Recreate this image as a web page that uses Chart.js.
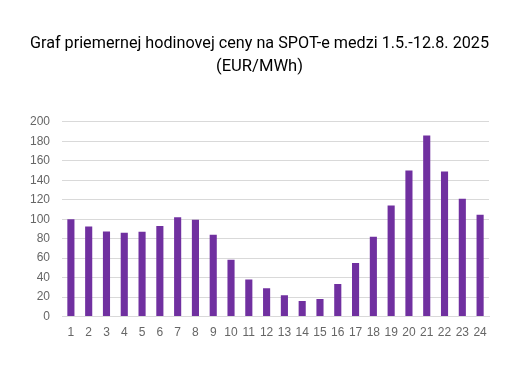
<!DOCTYPE html>
<html>
<head>
<meta charset="utf-8">
<script src="https://cdn.jsdelivr.net/npm/chart.js@4"></script>
<style>
  body { margin: 0; background: #fff; }
  #wrap { width: 525px; height: 370px; }
</style>
</head>
<body>
<div id="wrap"><canvas id="spotChart" width="525" height="370"></canvas></div>
<script>
const hours = ['1','2','3','4','5','6','7','8','9','10','11','12','13','14','15','16','17','18','19','20','21','22','23','24'];
const avgPrice = [100, 92.5, 87.5, 86, 87, 93, 102, 99.5, 84, 58.5, 38, 29, 22, 16, 18, 33.5, 55, 82, 114, 150, 186, 149, 121, 104.5];
const titleLines = ['Graf priemernej hodinovej ceny na SPOT-e medzi 1.5.-12.8. 2025', '(EUR/MWh)'];

const ctx = document.getElementById('spotChart').getContext('2d');
const spotChart = new Chart(ctx, {
    type: 'bar',
    data: {
        labels: hours,
        datasets: [{
            label: 'Priemerná cena',
            data: avgPrice,
            backgroundColor: '#7030a0',
            borderWidth: 0,
            barPercentage: 0.8,
            categoryPercentage: 0.5
        }]
    },
    options: {
        responsive: false,
        animation: false,
        layout: { padding: { top: 33, left: 30, right: 36, bottom: 29 } },
        plugins: {
            legend: { display: false },
            tooltip: { enabled: false },
            title: {
                display: true,
                text: titleLines,
                color: '#000',
                font: { family: 'Roboto', size: 16.6, weight: 'normal', lineHeight: 1.35 },
                padding: { top: 0, bottom: 44 }
            }
        },
        scales: {
            x: {
                grid: { display: false },
                border: { color: '#d9d9d9' },
                ticks: { color: '#666', font: { family: 'Liberation Sans', size: 12 }, padding: 1, maxRotation: 0 }
            },
            y: {
                min: 0,
                max: 200,
                afterFit: (scale) => { scale.width = 32; },
                grid: { color: '#d9d9d9', lineWidth: 1, drawTicks: false },
                border: { display: false },
                ticks: { stepSize: 20, color: '#666', font: { family: 'Liberation Sans', size: 12 }, padding: 12 }
            }
        }
    }
});
</script>
</body>
</html>
